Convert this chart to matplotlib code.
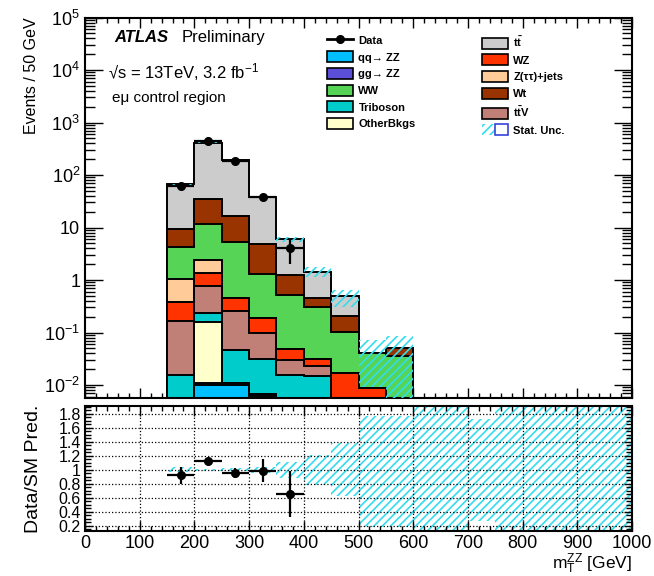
import numpy as np
import matplotlib
matplotlib.use("Agg")
import matplotlib.pyplot as plt
from matplotlib.patches import Patch
from matplotlib.lines import Line2D
from matplotlib.legend_handler import HandlerTuple
from matplotlib.ticker import (FixedLocator, FixedFormatter, MultipleLocator,
                               LogLocator, NullFormatter)

plt.rcParams['font.family'] = ['Liberation Sans', 'DejaVu Sans']
plt.rcParams['mathtext.fontset'] = 'custom'
plt.rcParams['mathtext.rm'] = 'Liberation Sans'
plt.rcParams['mathtext.it'] = 'Liberation Sans:italic'
plt.rcParams['mathtext.bf'] = 'Liberation Sans:bold'
plt.rcParams['hatch.linewidth'] = 1.2

# --- data ---
edges = np.arange(150, 601, 50)          # 150..600 GeV, 50 GeV bins

# backgrounds, bottom -> top of the stack
qq_zz = [0.004, 0.0100, 0.0102, 0.0062, 0.003, 0.003, 0.001, 0.001, 0.0]
gg_zz = [0.0005, 0.0008, 0.0006, 0.0004, 0.0002, 0.0001, 0.0, 0.0, 0.0]
other = [0.0, 0.150, 0.0, 0.0, 0.0, 0.0, 0.0, 0.0, 0.0]
tribo = [0.011, 0.071, 0.0356, 0.0242, 0.0123, 0.012, 0.002, 0.0, 0.0]
ttv = [0.1505, 0.537, 0.215, 0.0685, 0.0144, 0.0082, 0.001, 0.0, 0.0]
wz = [0.22, 0.611, 0.199, 0.0867, 0.0179, 0.0075, 0.0127, 0.0079, 0.0]
ztt = [0.644, 1.02, 0.0, 0.0, 0.0, 0.0, 0.0, 0.0, 0.0]
ww = [3.16, 9.3, 4.75, 1.11, 0.462, 0.270, 0.0873, 0.0324, 0.0357]
wt = [5.17, 23.2, 11.6, 3.48, 0.75, 0.147, 0.102, 0.0, 0.0142]
ttbar = [57.0, 378.0, 176.0, 33.8, 4.78, 0.992, 0.290, 0.0, 0.0]

stat_up = [0.035, 0.01, 0.02, 0.04, 0.11, 0.21, 0.30, 0.75, 0.70]
stat_dn = [0.035, 0.01, 0.02, 0.04, 0.11, 0.21, 0.37, 0.78, 0.90]

data_x = [175, 225, 275, 325, 375]
data_y = [61, 450, 183, 38, 4]
data_err = [7.8, 21.2, 13.5, 6.2, 2.0]

ratio_y = [0.92, 1.12, 0.95, 0.99, 0.66]
ratio_err = [0.12, 0.05, 0.07, 0.16, 0.33]

# ratio-panel uncertainty band, 150..1000 GeV
ratio_edges = np.arange(150, 1001, 50)
ratio_lo = [0.965, 0.99, 0.98, 0.96, 0.89, 0.79, 0.62, 0.18, 0.18,
            0.10, 0.10, 0.27, 0.10, 0.10, 0.10, 0.10, 0.10]
ratio_hi = [1.035, 1.01, 1.02, 1.04, 1.11, 1.21, 1.38, 1.77, 1.77,
            1.95, 1.95, 1.72, 1.95, 1.95, 1.95, 1.95, 1.95]

y_ticks = [1e-2, 1e-1, 1, 10, 1e2, 1e3, 1e4, 1e5]
y_ticklabels = [r'$10^{-2}$', r'$10^{-1}$', '1', '10', r'$10^{2}$',
                r'$10^{3}$', r'$10^{4}$', r'$10^{5}$']
r_ticks = [0.2, 0.4, 0.6, 0.8, 1.0, 1.2, 1.4, 1.6, 1.8]
r_ticklabels = ['0.2', '0.4', '0.6', '0.8', '1', '1.2', '1.4', '1.6', '1.8']

TT = r'$\mathbf{t\bar{t}}$'
layers = [
    (qq_zz, '#00bfff', 'qq→ ZZ'),
    (gg_zz, '#5a4fd6', 'gg→ ZZ'),
    (other, '#ffffcc', 'OtherBkgs'),
    (tribo, '#00cccc', 'Triboson'),
    (ttv, '#c08077', TT + 'V'),
    (wz, '#ff3300', 'WZ'),
    (ztt, '#ffcc99', 'Z(ττ)+jets'),
    (ww, '#55d455', 'WW'),
    (wt, '#993300', 'Wt'),
    (ttbar, '#cccccc', TT),
]
colors = {lab: col for _, col, lab in layers}
hatch_col = '#33dded'

fig = plt.figure(figsize=(6.54, 5.76), dpi=100)
ax = fig.add_axes([0.130, 0.309, 0.8364, 0.6606])
ax2 = fig.add_axes([0.130, 0.0773, 0.8364, 0.2178])

# --- main panel: stacked histogram ---
floor = 1e-5
cum = np.zeros(len(edges) - 1)
tops = []
for vals, col, lab in layers:
    cum = cum + np.array(vals)
    tops.append((cum.copy(), col))

for i, (top, col) in enumerate(reversed(tops)):
    ax.stairs(np.maximum(top, floor), edges, baseline=floor, fill=True,
              facecolor=col, edgecolor='black', lw=1.4, zorder=2 + 0.01 * i)

total = tops[-1][0]
ax.stairs(total * (1 + np.array(stat_up)), edges,
          baseline=np.maximum(total * (1 - np.array(stat_dn)), floor),
          fill=True, facecolor='none', edgecolor=hatch_col, hatch='////',
          lw=0, zorder=3)

ax.errorbar(data_x, data_y, xerr=25, yerr=data_err, fmt='o', color='black',
            ms=5.5, elinewidth=1.6, capsize=0, zorder=5)

ax.set_yscale('log')
ax.set_xlim(0, 1000)
ax.set_ylim(0.00565, 1e5)
ax.yaxis.set_major_locator(FixedLocator(y_ticks))
ax.yaxis.set_major_formatter(FixedFormatter(y_ticklabels))
ax.yaxis.set_minor_locator(LogLocator(base=10, subs=np.arange(2, 10), numticks=30))
ax.yaxis.set_minor_formatter(NullFormatter())
ax.xaxis.set_major_locator(MultipleLocator(100))
ax.xaxis.set_minor_locator(MultipleLocator(20))
ax.tick_params(axis='y', which='major', direction='in', length=13, width=1,
               right=True, labelsize=13, pad=3.5)
ax.tick_params(axis='y', which='minor', direction='in', length=7, width=1, right=True)
ax.tick_params(axis='x', which='major', direction='in', length=7, width=1,
               top=True, labelbottom=False)
ax.tick_params(axis='x', which='minor', direction='in', length=3.5, width=1, top=True)
for s in ax.spines.values():
    s.set_linewidth(1.5)

ax.set_ylabel('Events / 50 GeV', fontsize=11.5, loc='top')
ax.yaxis.set_label_coords(-0.085, 1.0)

# labels
ax.text(0.053, 0.9348, 'ATLAS', transform=ax.transAxes, fontsize=12,
        fontweight='bold', style='italic', va='baseline')
ax.text(0.1767, 0.9348, 'Preliminary', transform=ax.transAxes, fontsize=12,
        va='baseline')
ax.text(0.0415, 0.840, '√s = 13TeV, 3.2 fb$^{-1}$', transform=ax.transAxes,
        fontsize=12, va='baseline')
ax.text(0.050, 0.777, 'eμ control region', transform=ax.transAxes,
        fontsize=11, va='baseline')

# legend, two columns
def box(col):
    return Patch(facecolor=col, edgecolor='black', lw=1.2)

left_l = ['Data', 'qq→ ZZ', 'gg→ ZZ', 'WW', 'Triboson', 'OtherBkgs']
left_h = [Line2D([], [], color='black', marker='o', ms=5.5, lw=2)] + \
         [box(colors[lab]) for lab in left_l[1:]]
right_l = [TT, 'WZ', 'Z(ττ)+jets', 'Wt', TT + 'V', 'Stat. Unc.']
stat_h = (Patch(facecolor='none', edgecolor=hatch_col, hatch='////', lw=0),
          Patch(facecolor='none', edgecolor='#3344dd', lw=1.2))
right_h = [box(colors[lab]) for lab in right_l[:-1]] + [stat_h]

leg_kw = dict(loc='upper left', frameon=False, prop={'weight': 'bold', 'size': 8},
              handlelength=2.35, handleheight=1.15, handletextpad=0.5,
              labelspacing=0.49, borderpad=0, borderaxespad=0,
              handler_map={tuple: HandlerTuple(ndivide=None, pad=0)})
leg1 = ax.legend(left_h, left_l, bbox_to_anchor=(0.442, 0.9553), **leg_kw)
ax.add_artist(leg1)
ax.legend(right_h, right_l, bbox_to_anchor=(0.725, 0.9553), **leg_kw)

# --- ratio panel ---
ax2.stairs(ratio_hi, ratio_edges, baseline=ratio_lo, fill=True, facecolor='none',
           edgecolor=hatch_col, hatch='////', lw=0, zorder=1)
ax2.errorbar(data_x, ratio_y, xerr=25, yerr=ratio_err, fmt='o', color='black',
             ms=5.5, elinewidth=1.6, capsize=0, zorder=5)
ax2.set_xlim(0, 1000)
ax2.set_ylim(0.12, 1.91)
ax2.yaxis.set_major_locator(FixedLocator(r_ticks))
ax2.yaxis.set_major_formatter(FixedFormatter(r_ticklabels))
ax2.yaxis.set_minor_locator(MultipleLocator(0.05))
ax2.xaxis.set_major_locator(MultipleLocator(100))
ax2.xaxis.set_minor_locator(MultipleLocator(20))
ax2.grid(True, which='major', ls=':', color='black', lw=0.9, zorder=2)
ax2.tick_params(axis='y', which='major', direction='in', length=6, width=1,
                right=True, labelsize=11.5, pad=3)
ax2.tick_params(axis='y', which='minor', direction='in', length=4, width=1, right=True)
ax2.tick_params(axis='x', which='major', direction='in', length=7, width=1,
                top=True, labelsize=13, pad=2.5)
ax2.tick_params(axis='x', which='minor', direction='in', length=3.5, width=1, top=True)
for s in ax2.spines.values():
    s.set_linewidth(1.5)

ax2.set_ylabel('Data/SM Pred.', fontsize=14)
ax2.yaxis.set_label_coords(-0.079, 0.5)
ax2.set_xlabel(r'm$_{\mathrm{T}}^{\mathrm{ZZ}}$ [GeV]', fontsize=12.5, loc='right')
ax2.xaxis.set_label_coords(1.0, -0.16)

fig.savefig('out.png', dpi=100)
